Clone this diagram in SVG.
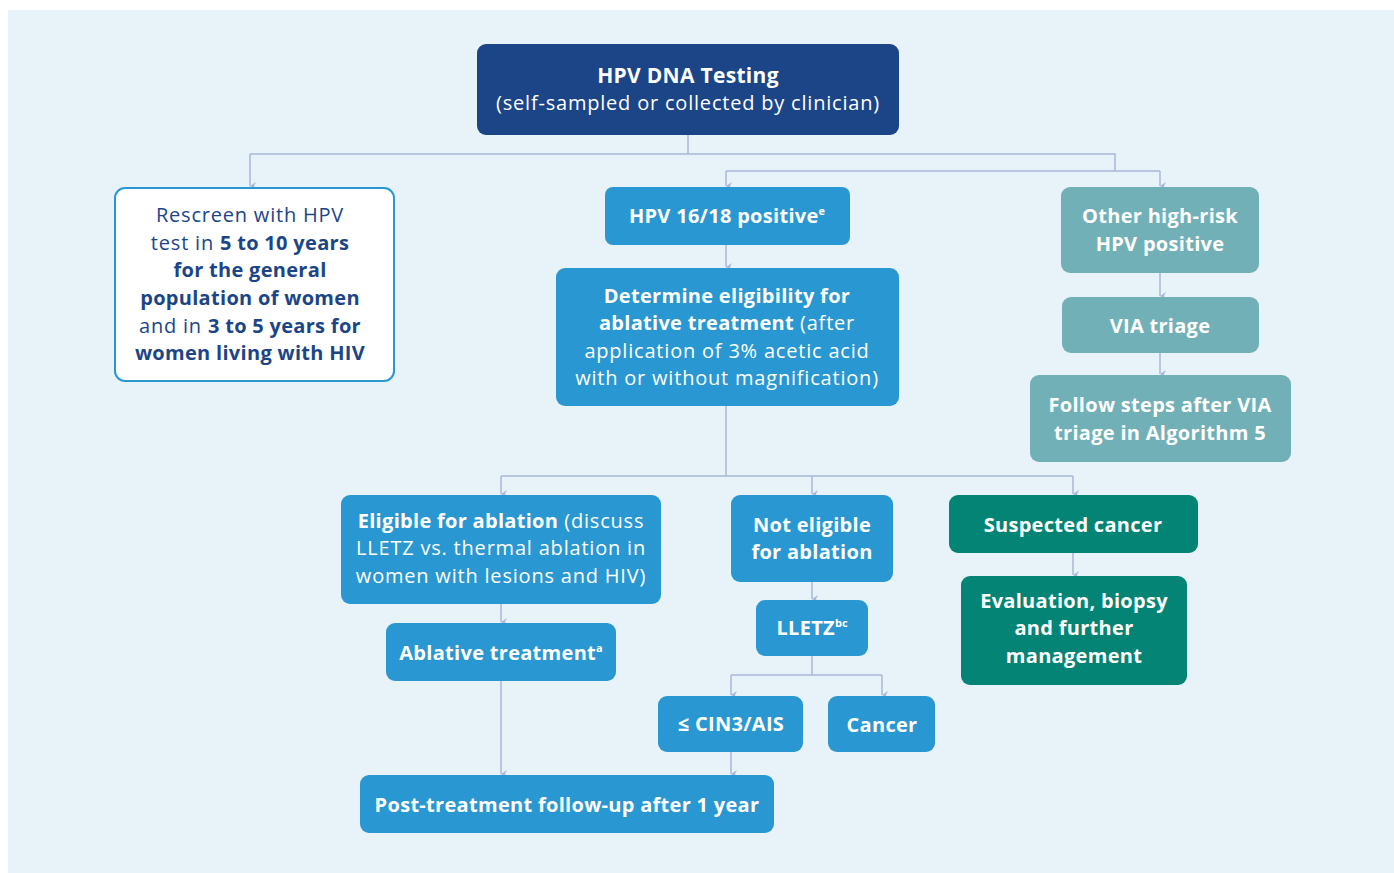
<svg xmlns="http://www.w3.org/2000/svg" width="1394" height="873" viewBox="0 0 1394 873">
<defs>
<marker id="arr" markerWidth="8" markerHeight="8" refX="4" refY="7" orient="auto" markerUnits="userSpaceOnUse" viewBox="0 0 8 8">
<path d="M0,1 L4,7 L8,1 L4,3 Z" fill="#a9b8d6"/>
</marker>
<style>
text{font-family:"Open Sans","Liberation Sans",sans-serif;font-size:20px;text-anchor:middle;letter-spacing:0.8px}
.w{fill:#ffffff}
.n{fill:#1c4587}
.b{font-weight:bold;letter-spacing:0.3px}
.t{font-size:21px}
.sup{font-size:11px;letter-spacing:0}
.c{fill:none;stroke:#a9b8d6;stroke-width:1.5}
.ca{fill:none;stroke:#a9b8d6;stroke-width:1.5;marker-end:url(#arr)}
.navy{fill:#1b4587}
.blue{fill:#2997d2}
.teal{fill:#72b0b7}
.green{fill:#038474}
</style>
</defs>
<rect x="0" y="0" width="1394" height="873" fill="#ffffff"/>
<rect x="8" y="10" width="1386" height="863" fill="#e8f3f9"/>

<g id="connectors">
<path class="c" d="M688,135 V154 M250,154 H1115 V171 M726,171 H1160"/>
<path class="ca" d="M250,154 V186"/>
<path class="ca" d="M726,171 V186"/>
<path class="ca" d="M1160,171 V186"/>
<path class="ca" d="M726,245 V267"/>
<path class="ca" d="M1160,273 V296"/>
<path class="ca" d="M1160,353 V374"/>
<path class="c" d="M726,406 V476 M501,476 H1073"/>
<path class="ca" d="M501,476 V494"/>
<path class="ca" d="M812,476 V494"/>
<path class="ca" d="M1073,476 V494"/>
<path class="ca" d="M501,604 V622"/>
<path class="ca" d="M812,582 V599"/>
<path class="ca" d="M1073,553 V575"/>
<path class="c" d="M812,656 V675 M731,675 H882"/>
<path class="ca" d="M731,675 V695"/>
<path class="ca" d="M882,675 V695"/>
<path class="ca" d="M501,681 V774"/>
<path class="ca" d="M731,752 V774"/>
</g>

<g id="hpv-testing">
<rect class="navy" x="477" y="44" width="422" height="91" rx="9"/>
<text class="w b t" x="688" y="83">HPV DNA Testing</text>
<text class="w" x="688" y="110">(self-sampled or collected by clinician)</text>
</g>

<g id="rescreen">
<rect x="115" y="188" width="279" height="193" rx="10" fill="#ffffff" stroke="#2997d2" stroke-width="2"/>
<text class="n" x="250" y="222">Rescreen with HPV</text>
<text class="n" x="250" y="250">test in <tspan class="b">5 to 10 years</tspan></text>
<text class="n b" x="250" y="277">for the general</text>
<text class="n b" x="250" y="305">population of women</text>
<text class="n" x="250" y="333">and in <tspan class="b">3 to 5 years for</tspan></text>
<text class="n b" x="250" y="360">women living with HIV</text>
</g>

<g id="hpv1618">
<rect class="blue" x="605" y="187" width="245" height="58" rx="8"/>
<text class="w b" x="727" y="223">HPV 16/18 positive<tspan class="sup" dy="-8">e</tspan></text>
</g>

<g id="determine">
<rect class="blue" x="556" y="268" width="343" height="138" rx="9"/>
<text class="w b" x="727" y="303">Determine eligibility for</text>
<text class="w" x="727" y="330"><tspan class="b">ablative treatment</tspan> (after</text>
<text class="w" x="727" y="358">application of 3% acetic acid</text>
<text class="w" x="727" y="385">with or without magnification)</text>
</g>

<g id="other-hr">
<rect class="teal" x="1061" y="187" width="198" height="86" rx="9"/>
<text class="w b" x="1160" y="223">Other high-risk</text>
<text class="w b" x="1160" y="251">HPV positive</text>
</g>

<g id="via-triage">
<rect class="teal" x="1062" y="297" width="197" height="56" rx="9"/>
<text class="w b" x="1160" y="333">VIA triage</text>
</g>

<g id="follow-steps">
<rect class="teal" x="1030" y="375" width="261" height="87" rx="9"/>
<text class="w b" x="1160" y="412">Follow steps after VIA</text>
<text class="w b" x="1160" y="440">triage in Algorithm 5</text>
</g>

<g id="eligible">
<rect class="blue" x="341" y="495" width="320" height="109" rx="9"/>
<text class="w" x="501" y="528"><tspan class="b">Eligible for ablation</tspan> (discuss</text>
<text class="w" x="501" y="555">LLETZ vs. thermal ablation in</text>
<text class="w" x="501" y="583">women with lesions and HIV)</text>
</g>

<g id="not-eligible">
<rect class="blue" x="731" y="495" width="162" height="87" rx="9"/>
<text class="w b" x="812" y="532">Not eligible</text>
<text class="w b" x="812" y="559">for ablation</text>
</g>

<g id="suspected-cancer">
<rect class="green" x="949" y="495" width="249" height="58" rx="9"/>
<text class="w b" x="1073" y="532">Suspected cancer</text>
</g>

<g id="evaluation">
<rect class="green" x="961" y="576" width="226" height="109" rx="9"/>
<text class="w b" x="1074" y="608">Evaluation, biopsy</text>
<text class="w b" x="1074" y="635">and further</text>
<text class="w b" x="1074" y="663">management</text>
</g>

<g id="lletz">
<rect class="blue" x="756" y="600" width="112" height="56" rx="9"/>
<text class="w b" x="812" y="635">LLETZ<tspan class="sup" dy="-8">bc</tspan></text>
</g>

<g id="ablative">
<rect class="blue" x="386" y="623" width="230" height="58" rx="9"/>
<text class="w b" x="501" y="660">Ablative treatment<tspan class="sup" dy="-8">a</tspan></text>
</g>

<g id="cin3">
<rect class="blue" x="658" y="696" width="145" height="56" rx="9"/>
<text class="w b" x="731" y="731">≤ CIN3/AIS</text>
</g>

<g id="cancer">
<rect class="blue" x="828" y="696" width="107" height="56" rx="9"/>
<text class="w b" x="882" y="732">Cancer</text>
</g>

<g id="post-treatment">
<rect class="blue" x="360" y="775" width="414" height="58" rx="9"/>
<text class="w b" x="567" y="812">Post-treatment follow-up after 1 year</text>
</g>
</svg>
